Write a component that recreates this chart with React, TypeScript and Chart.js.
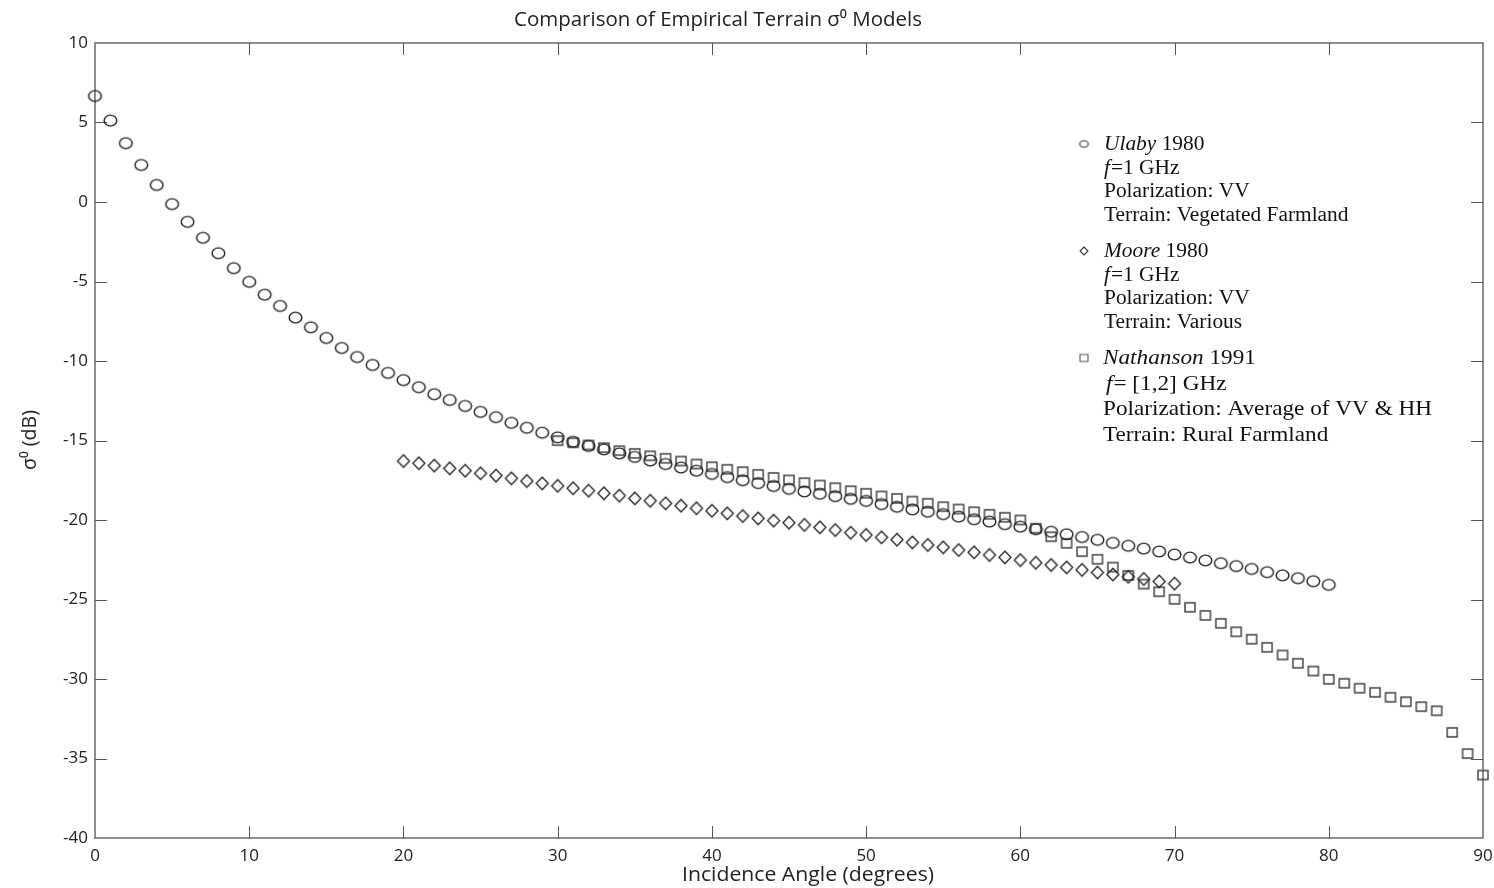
import React, { useEffect, useRef } from "react";
import { Chart, registerables } from "chart.js";

Chart.register(...registerables);

const chartTitle = "Comparison of Empirical Terrain σ⁰ Models";
const xTitle = "Incidence Angle (degrees)";
const yTitle = "σ⁰ (dB)";

const ulabyStart = 0;
const ulabyValues = [
  6.67, 5.12, 3.7, 2.33, 1.07, -0.13, -1.25, -2.25, -3.22, -4.16,
  -5.02, -5.83, -6.54, -7.27, -7.88, -8.55, -9.18, -9.75, -10.25, -10.75,
  -11.2, -11.65, -12.09, -12.45, -12.83, -13.2, -13.53, -13.89, -14.2, -14.51,
  -14.8, -15.08, -15.34, -15.56, -15.81, -16.03, -16.26, -16.48, -16.7, -16.9,
  -17.1, -17.3, -17.5, -17.68, -17.86, -18.04, -18.2, -18.35, -18.5, -18.67,
  -18.8, -19.0, -19.17, -19.33, -19.48, -19.63, -19.79, -19.95, -20.1, -20.26,
  -20.42, -20.58, -20.74, -20.9, -21.07, -21.25, -21.44, -21.62, -21.8, -21.98,
  -22.17, -22.36, -22.54, -22.72, -22.9, -23.08, -23.28, -23.48, -23.66, -23.85,
  -24.08,
];

const mooreStart = 20;
const mooreValues = [
  -16.29, -16.43, -16.58, -16.75, -16.9, -17.06, -17.21, -17.38, -17.55, -17.7,
  -17.85, -18.0, -18.16, -18.32, -18.47, -18.64, -18.79, -18.95, -19.1, -19.26,
  -19.42, -19.58, -19.75, -19.9, -20.04, -20.17, -20.31, -20.46, -20.63, -20.8,
  -20.94, -21.09, -21.24, -21.41, -21.57, -21.72, -21.89, -22.03, -22.2, -22.35,
  -22.52, -22.69, -22.83, -22.98, -23.14, -23.3, -23.43, -23.57, -23.71, -23.86,
  -24.0,
];

const nathansonStart = 30;
const nathansonValues = [
  -15.01, -15.14, -15.28, -15.45, -15.64, -15.81, -15.96, -16.12, -16.29, -16.48,
  -16.65, -16.81, -16.96, -17.13, -17.32, -17.48, -17.65, -17.8, -17.97, -18.16,
  -18.32, -18.49, -18.64, -18.81, -18.95, -19.16, -19.31, -19.48, -19.64, -19.83,
  -20.0, -20.52, -21.05, -21.47, -21.99, -22.47, -22.96, -23.49, -24.03, -24.51,
  -24.99, -25.49, -26.0, -26.5, -27.03, -27.5, -28.01, -28.49, -29.01, -29.5,
  -30.02, -30.27, -30.58, -30.84, -31.15, -31.43, -31.74, -32.0, -33.36, -34.69,
  -36.04,
];

const legendUlaby = ["Ulaby", " 1980", "f", "=1 GHz", "Polarization: VV", "Terrain: Vegetated Farmland"];
const legendMoore = ["Moore", " 1980", "f", "=1 GHz", "Polarization: VV", "Terrain: Various"];
const legendNathanson = ["Nathanson", " 1991", "f", "= [1,2] GHz", "Polarization: Average of VV & HH", "Terrain: Rural Farmland"];

const SANS = "'Open Sans', 'Liberation Sans', sans-serif";
const SERIF = "'Liberation Serif', 'DejaVu Serif', serif";

function makeMarker(kind: string, w: number, h: number, color: string, lw: number) {
  const c = document.createElement("canvas");
  const pad = 3;
  c.width = Math.ceil(w + pad * 2);
  c.height = Math.ceil(h + pad * 2);
  const ctx = c.getContext("2d")!;
  ctx.strokeStyle = color;
  ctx.lineWidth = lw;
  const cx = c.width / 2;
  const cy = c.height / 2;
  ctx.beginPath();
  if (kind === "circle") {
    ctx.ellipse(cx, cy, w / 2, h / 2, 0, 0, Math.PI * 2);
  } else if (kind === "diamond") {
    ctx.moveTo(cx, cy - h / 2);
    ctx.lineTo(cx + w / 2, cy);
    ctx.lineTo(cx, cy + h / 2);
    ctx.lineTo(cx - w / 2, cy);
    ctx.closePath();
  } else {
    ctx.rect(cx - w / 2, cy - h / 2, w, h);
  }
  ctx.stroke();
  return c;
}

function toPoints(start: number, values: number[]) {
  return values.map((v, i) => ({ x: start + i, y: v }));
}

function textS(ctx: CanvasRenderingContext2D, t: string, x: number, y: number, sx: number) {
  ctx.save();
  ctx.translate(x, y);
  ctx.scale(sx, 1);
  ctx.fillText(t, 0, 0);
  ctx.restore();
  return ctx.measureText(t).width * sx;
}

export default function App() {
  const ref = useRef<HTMLCanvasElement | null>(null);

  useEffect(() => {
    const canvas = ref.current;
    if (!canvas) return;
    document.body.style.margin = "0";

    const circleImg = makeMarker("circle", 12.6, 10.8, "#1e1e1e", 1.4);
    const diamondImg = makeMarker("diamond", 12, 12.5, "#262626", 1.35);
    const squareImg = makeMarker("square", 10, 9, "#404040", 1.45);
    const circleSmall = makeMarker("circle", 8.5, 6.5, "#333", 1.1);
    const diamondSmall = makeMarker("diamond", 8, 8, "#333", 1.1);
    const squareSmall = makeMarker("square", 8, 7, "#555", 1.1);

    const decor = {
      id: "decor",
      beforeDatasetsDraw(chart: any) {
        const { ctx, chartArea: a, scales } = chart;
        ctx.save();
        ctx.strokeStyle = "#6a6a6a";
        ctx.lineWidth = 1.5;
        ctx.strokeRect(a.left, a.top, a.right - a.left, a.bottom - a.top);
        ctx.lineWidth = 1;
        ctx.strokeStyle = "#555";
        const tl = 12;
        for (let v = 10; v < 90; v += 10) {
          const x = Math.round(scales.x.getPixelForValue(v)) + 0.5;
          ctx.beginPath();
          ctx.moveTo(x, a.bottom);
          ctx.lineTo(x, a.bottom - tl);
          ctx.moveTo(x, a.top);
          ctx.lineTo(x, a.top + tl);
          ctx.stroke();
        }
        for (let v = -35; v < 10; v += 5) {
          const y = Math.round(scales.y.getPixelForValue(v)) + 0.5;
          ctx.beginPath();
          ctx.moveTo(a.left, y);
          ctx.lineTo(a.left + tl, y);
          ctx.moveTo(a.right, y);
          ctx.lineTo(a.right - tl, y);
          ctx.stroke();
        }
        ctx.restore();
      },
      afterDraw(chart: any) {
        const { ctx } = chart;
        ctx.save();
        ctx.fillStyle = "#222";
        ctx.textAlign = "center";
        ctx.textBaseline = "middle";
        ctx.font = `19.5px ${SANS}`;
        textS(ctx, chartTitle, 718, 20, 1.05);
        ctx.font = `20px ${SANS}`;
        textS(ctx, xTitle, 808, 875, 1.06);
        ctx.save();
        ctx.translate(30, 440);
        ctx.rotate(-Math.PI / 2);
        ctx.font = `19.5px ${SANS}`;
        ctx.fillText(yTitle, 0, 0);
        ctx.restore();

        // legend
        ctx.fillStyle = "#111";
        ctx.textAlign = "left";
        ctx.textBaseline = "alphabetic";
        const blocks = [
          { lines: legendUlaby, img: circleSmall, y0: 150, dy: 23.7, size: 20, sx: 1.07, x: 1104, fx: 1104 },
          { lines: legendMoore, img: diamondSmall, y0: 257, dy: 23.5, size: 20, sx: 1.07, x: 1104, fx: 1104 },
          { lines: legendNathanson, img: squareSmall, y0: 364, dy: 25.7, size: 21.5, sx: 1.08, x: 1103, fx: 1106 },
        ];
        blocks.forEach((b) => {
          const x = b.x;
          ctx.drawImage(b.img, 1084 - b.img.width / 2, b.y0 - 6 - b.img.height / 2);
          ctx.font = `italic ${b.size}px ${SERIF}`;
          const w = textS(ctx, b.lines[0], x, b.y0, b.sx);
          ctx.font = `${b.size}px ${SERIF}`;
          textS(ctx, b.lines[1], x + w, b.y0, b.sx);
          ctx.font = `italic ${b.size}px ${SERIF}`;
          const w2 = textS(ctx, b.lines[2], b.fx, b.y0 + b.dy, b.sx);
          ctx.font = `${b.size}px ${SERIF}`;
          textS(ctx, b.lines[3], b.fx + w2 + 1, b.y0 + b.dy, b.sx);
          textS(ctx, b.lines[4], x, b.y0 + 2 * b.dy, b.sx);
          textS(ctx, b.lines[5], x, b.y0 + 3 * b.dy, b.sx);
        });
        ctx.restore();
      },
    };

    const chart = new Chart(canvas, {
      type: "scatter",
      data: {
        datasets: [
          { label: "Ulaby 1980", data: toPoints(ulabyStart, ulabyValues), pointStyle: circleImg as any, clip: false as any },
          { label: "Moore 1980", data: toPoints(mooreStart, mooreValues), pointStyle: diamondImg as any, clip: false as any },
          { label: "Nathanson 1991", data: toPoints(nathansonStart, nathansonValues), pointStyle: squareImg as any, clip: false as any },
        ],
      },
      options: {
        animation: false,
        responsive: false,
        layout: { padding: { left: 0, top: 43, right: 11, bottom: 0 } },
        plugins: { legend: { display: false }, tooltip: { enabled: false }, title: { display: false } },
        scales: {
          x: {
            type: "linear",
            min: 0,
            max: 90,
            grid: { display: false, drawTicks: false },
            border: { display: false },
            ticks: { stepSize: 10, padding: 8, color: "#222", font: { family: SANS, size: 17 } },
            afterFit: (s: any) => { s.height = 50; s.paddingLeft = 0; s.paddingRight = 0; },
          },
          y: {
            type: "linear",
            min: -40,
            max: 10,
            grid: { display: false, drawTicks: false },
            border: { display: false },
            ticks: { stepSize: 5, padding: 7, color: "#222", font: { family: SANS, size: 17 } },
            afterFit: (s: any) => { s.width = 95; s.paddingTop = 0; s.paddingBottom = 0; },
          },
        },
      },
      plugins: [decor],
    });
    return () => chart.destroy();
  }, []);

  return (
    <div style={{ position: "fixed", left: 0, top: 0, width: 1494, height: 888, background: "#fff" }}>
      <canvas ref={ref} width={1494} height={888} style={{ width: 1494, height: 888 }} />
    </div>
  );
}
